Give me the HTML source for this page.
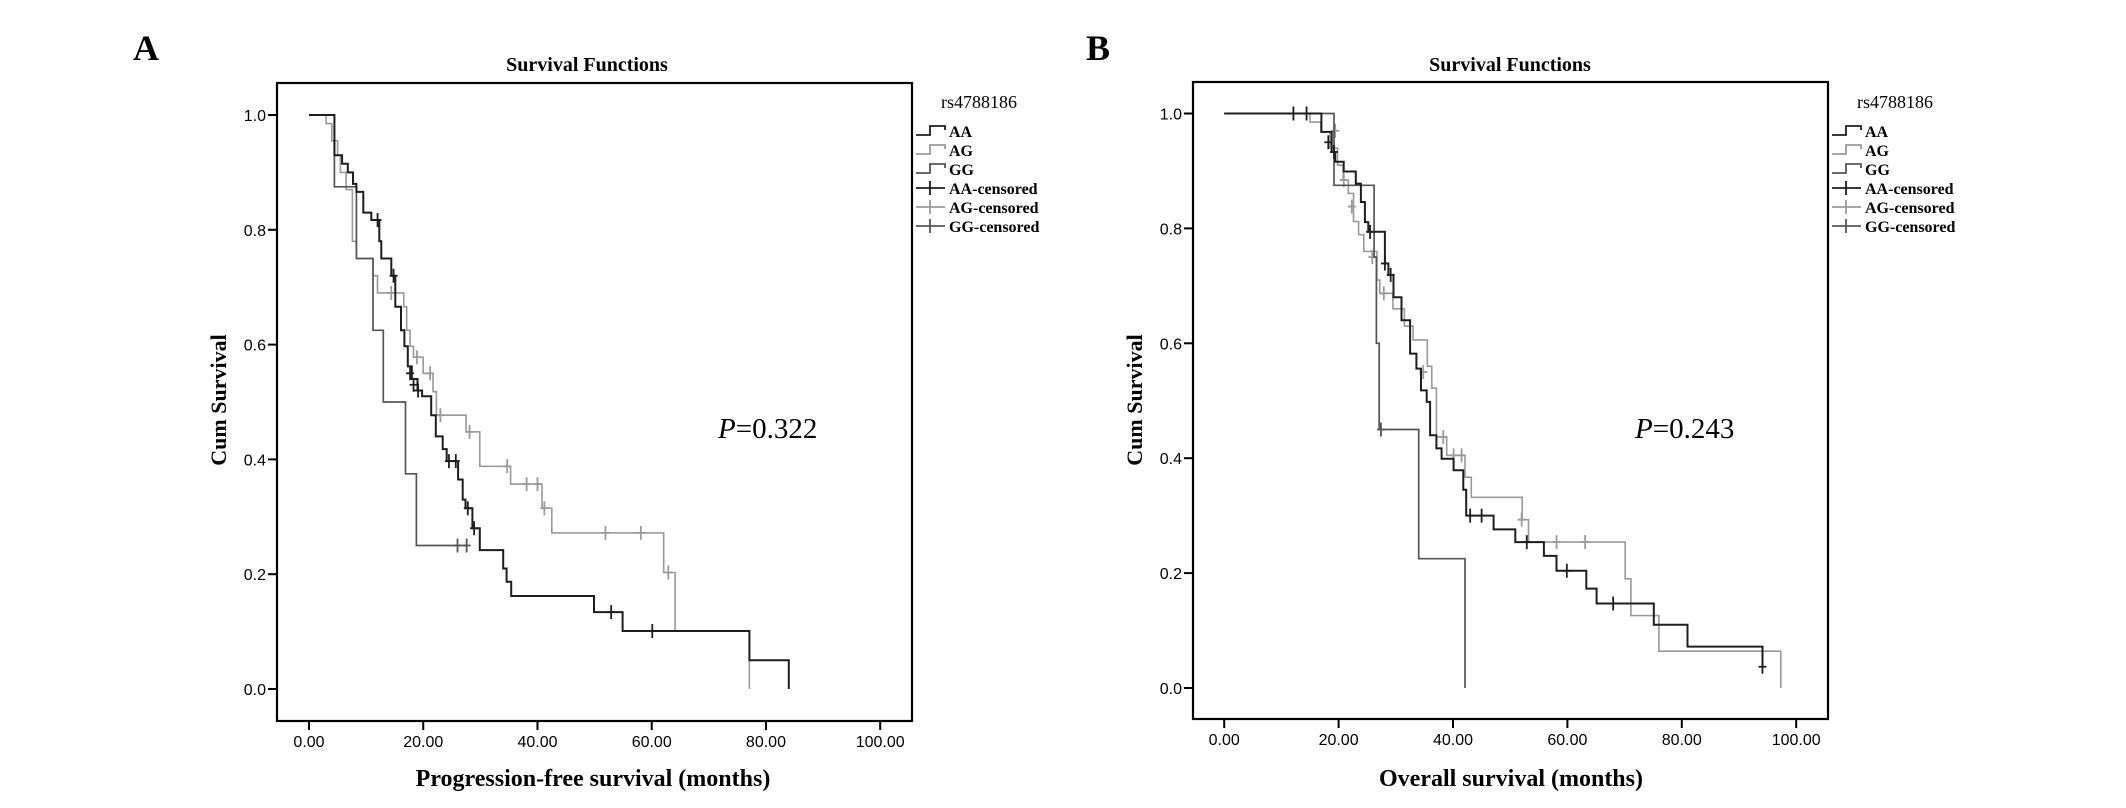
<!DOCTYPE html>
<html><head><meta charset="utf-8"><style>
html,body{margin:0;padding:0;background:#fff;}
svg{display:block;}
.ser{font-family:"Liberation Serif",serif;}
.sans{font-family:"Liberation Sans",sans-serif;}
</style></head><body>
<svg id="fig" width="2126" height="808" viewBox="0 0 2126 808" xmlns="http://www.w3.org/2000/svg">
<rect width="2126" height="808" fill="#fff"/>
</svg>
<script>
// ---------- Data: Panel A (Progression-free survival) ----------
const xTicks = [0, 20, 40, 60, 80, 100];
const xTickLabels = ["0.00", "20.00", "40.00", "60.00", "80.00", "100.00"];
const yTicks = [0, 0.2, 0.4, 0.6, 0.8, 1.0];
const yTickLabels = ["0.0", "0.2", "0.4", "0.6", "0.8", "1.0"];

const aAATimes = [4.45,5.8,6.8,7.7,8.3,9.5,10.9,12.3,12.65,14.4,15.1,16.1,16.7,17.3,18.0,19.0,19.8,21.4,22.2,23.4,24.1,26.1,26.9,27.4,28.6,29.9,34.0,34.6,35.4,49.9,54.9,77.1,84.0];
const aAASurv  = [0.93,0.915,0.90,0.88,0.866,0.83,0.817,0.78,0.75,0.72,0.666,0.625,0.597,0.562,0.54,0.52,0.51,0.477,0.44,0.418,0.397,0.365,0.33,0.315,0.28,0.242,0.21,0.187,0.162,0.134,0.101,0.05,0];
const aAAEnd = 84.0;
const aAACensT = [12.0,14.8,17.7,18.3,19.1,24.5,25.7,27.8,28.9,52.9,60.1];
const aAACensS = [0.817,0.72,0.55,0.53,0.52,0.397,0.397,0.315,0.28,0.134,0.101];

const aAGTimes = [3.0,4.0,5.0,5.5,6.5,7.6,8.3,11.2,12.0,16.6,17.1,17.7,18.3,20.0,21.7,22.3,27.5,29.9,35.3,40.8,42.5,62.1,64.1,77.1];
const aAGSurv  = [0.985,0.955,0.93,0.90,0.87,0.78,0.75,0.72,0.69,0.666,0.625,0.597,0.578,0.55,0.518,0.477,0.448,0.388,0.357,0.315,0.272,0.203,0.101,0];
const aAGEnd = 77.1;
const aAGCensT = [14.4,18.9,21.2,23.0,28.1,34.7,38.1,40.0,41.2,51.9,58.1,62.9];
const aAGCensS = [0.69,0.578,0.55,0.477,0.448,0.388,0.357,0.357,0.315,0.272,0.272,0.203];

const aGGTimes = [4.45,8.3,11.2,13.0,16.9,18.8];
const aGGSurv  = [0.875,0.75,0.625,0.5,0.375,0.25];
const aGGEnd = 27.6;
const aGGCensT = [26.0,27.6];
const aGGCensS = [0.25,0.25];

// ---------- Data: Panel B (Overall survival) ----------
const bAATimes = [17.0,18.8,19.4,20.9,23.0,23.9,24.6,25.2,28.1,28.7,29.6,31.0,32.5,33.6,34.4,35.4,36.0,37.1,38.0,40.1,41.8,42.3,47.1,50.9,55.9,58.1,63.3,65.1,75.1,81.0,94.1];
const bAASurv  = [0.968,0.933,0.916,0.899,0.878,0.846,0.811,0.794,0.739,0.719,0.68,0.64,0.582,0.556,0.518,0.498,0.44,0.417,0.399,0.379,0.345,0.30,0.276,0.254,0.23,0.204,0.173,0.147,0.11,0.072,0.037];
const bAAEnd = 94.1;
const bAACensT = [12.1,14.4,18.2,19.2,25.5,28.1,29.1,43.0,45.0,52.9,59.9,68.0,94.1];
const bAACensS = [1.0,1.0,0.95,0.933,0.794,0.739,0.719,0.30,0.30,0.254,0.204,0.147,0.037];

const bAGTimes = [15.0,16.9,18.5,19.8,20.8,21.7,22.6,23.5,24.4,26.7,27.2,29.5,31.5,33.0,35.5,36.3,37.1,38.9,42.1,43.2,52.1,53.2,70.1,71.1,76.0,97.3];
const bAGSurv  = [0.985,0.968,0.94,0.91,0.884,0.861,0.812,0.789,0.76,0.71,0.687,0.66,0.63,0.606,0.56,0.522,0.437,0.405,0.367,0.332,0.293,0.254,0.19,0.126,0.064,0];
const bAGEnd = 97.3;
const bAGCensT = [19.4,20.9,22.3,25.9,27.9,34.8,38.3,40.1,41.5,52.0,58.1,63.1];
const bAGCensS = [0.97,0.884,0.838,0.75,0.687,0.55,0.437,0.405,0.405,0.293,0.254,0.254];

const bGGTimes = [19.2,26.2,26.6,27.1,34.0,42.1];
const bGGSurv  = [0.875,0.75,0.6,0.45,0.225,0];
const bGGEnd = 42.1;
const bGGCensT = [27.4];
const bGGCensS = [0.45];

const colAA = "#1e1e1e", colAG = "#9a9a9a", colGG = "#555555";
const NS = "http://www.w3.org/2000/svg";
const svg = document.getElementById('fig');

function mk(tag, attrs, parent, text) {
  const e = document.createElementNS(NS, tag);
  for (const k in attrs) e.setAttribute(k, attrs[k]);
  if (text !== undefined) e.textContent = text;
  (parent || svg).appendChild(e);
  return e;
}

function stepPath(xs, ys, times, surv, end) {
  let t0 = 0, s = 1;
  let d = "M" + xs(0) + "," + ys(1);
  for (let i = 0; i < times.length; i++) {
    d += " H" + xs(times[i]).toFixed(1) + " V" + ys(surv[i]).toFixed(1);
    s = surv[i];
  }
  const lastT = times.length ? times[times.length - 1] : 0;
  if (end > lastT) d += " H" + xs(end).toFixed(1);
  return d;
}

function drawPanel(p) {
  const g = mk('g', {});
  
  
  const xs = t => p.x0 + p.kx * t;
  const ys = s => p.y0 - p.ky * s;

  const title = mk('text', {x: p.titleX, y: 71, 'text-anchor': 'middle', 'font-size': 20, 'font-weight': 'bold', class: 'ser'}, g, 'Survival Functions');
  
  

  const frame = mk('rect', {x: p.L, y: p.T, width: p.R - p.L, height: p.B - p.T, fill: 'none', stroke: '#000', 'stroke-width': 2.2}, g);
  
  

  // y ticks
  for (let i = 0; i < yTicks.length; i++) {
    const y = ys(yTicks[i]);
    const tk = mk('line', {x1: p.L - 9, x2: p.L, y1: y, y2: y, stroke: '#000', 'stroke-width': 2}, g);
    
    
    const lb = mk('text', {x: p.L - 11, y: y + 6, 'text-anchor': 'end', 'font-size': 16, class: 'sans'}, g, yTickLabels[i]);
    
    
  }
  // x ticks
  for (let i = 0; i < xTicks.length; i++) {
    const x = xs(xTicks[i]);
    const tk = mk('line', {x1: x, x2: x, y1: p.B, y2: p.B + 9, stroke: '#000', 'stroke-width': 2}, g);
    
    
    const lb = mk('text', {x: x, y: p.B + 26, 'text-anchor': 'middle', 'font-size': 16, class: 'sans'}, g, xTickLabels[i]);
    
    
  }
  const xt = mk('text', {x: p.xTitleX, y: 786, 'text-anchor': 'middle', 'font-size': 24, 'font-weight': 'bold', class: 'ser'}, g, p.xTitle);
  
  
  const yt = mk('text', {x: 0, y: 0, 'text-anchor': 'middle', 'font-size': 22, 'font-weight': 'bold', class: 'ser', transform: 'translate(' + (p.L - 51) + ',' + 400 + ') rotate(-90)'}, g, 'Cum Survival');
  
  

  // series
  for (const s of p.series) {
    const path = mk('path', {d: stepPath(xs, ys, s.times, s.surv, s.end), fill: 'none', stroke: s.color, 'stroke-width': s.w}, g);
    
    
    for (let i = 0; i < s.ct.length; i++) {
      const cx = xs(s.ct[i]), cy = ys(s.cs[i]);
      const c = mk('path', {d: 'M' + cx + ',' + (cy - 7) + ' V' + (cy + 7) + ' M' + (cx - 4) + ',' + cy + ' H' + (cx + 4), stroke: s.color, 'stroke-width': 1.8, fill: 'none'}, g);
      
      
    }
  }

  const pv = mk('text', {x: p.pX, y: 438, 'font-size': 29, class: 'ser'}, g);
  
  
  mk('tspan', {'font-style': 'italic'}, pv, 'P');
  mk('tspan', {}, pv, p.pText);

  // legend
  const lg = mk('g', {}, g);
  
  
  const lx = p.R + 4;
  const lt = mk('text', {x: lx + 63, y: 108, 'text-anchor': 'middle', 'font-size': 18, class: 'ser'}, lg, 'rs4788186');
  
  
  const entries = [['AA', colAA, 0], ['AG', colAG, 0], ['GG', colGG, 0], ['AA-censored', colAA, 1], ['AG-censored', colAG, 1], ['GG-censored', colGG, 1]];
  const ly = [131, 150, 169, 188, 207, 226];
  for (let i = 0; i < entries.length; i++) {
    const [lab, col, cens] = entries[i];
    const y = ly[i];
    let d;
    if (!cens) d = 'M' + lx + ',' + (y + 4) + ' H' + (lx + 14) + ' V' + (y - 5) + ' H' + (lx + 29) + ' V' + (y - 1);
    else d = 'M' + lx + ',' + y + ' H' + (lx + 29) + ' M' + (lx + 14) + ',' + (y - 7) + ' V' + (y + 7);
    const sym = mk('path', {d: d, stroke: col, 'stroke-width': 1.8, fill: 'none'}, lg);
    
    
    const tx = mk('text', {x: lx + 33, y: y + 6, 'font-size': 16, 'font-weight': 'bold', class: 'ser'}, lg, lab);
    
    
  }
}

drawPanel({name: 'panel-a', L: 277, T: 83, R: 912, B: 721, x0: 309, kx: 5.712, y0: 689, ky: 574,
  titleX: 587, xTitle: 'Progression-free survival (months)', xTitleX: 593, pX: 718, pText: '=0.322',
  series: [
    {name: 'ag', times: aAGTimes, surv: aAGSurv, end: aAGEnd, ct: aAGCensT, cs: aAGCensS, color: colAG, w: 1.6},
    {name: 'gg', times: aGGTimes, surv: aGGSurv, end: aGGEnd, ct: aGGCensT, cs: aGGCensS, color: colGG, w: 1.7},
    {name: 'aa', times: aAATimes, surv: aAASurv, end: aAAEnd, ct: aAACensT, cs: aAACensS, color: colAA, w: 2}
  ]});
drawPanel({name: 'panel-b', L: 1193, T: 82, R: 1828, B: 719, x0: 1224.2, kx: 5.72, y0: 688, ky: 574.5,
  titleX: 1510, xTitle: 'Overall survival (months)', xTitleX: 1511, pX: 1635, pText: '=0.243',
  series: [
    {name: 'ag', times: bAGTimes, surv: bAGSurv, end: bAGEnd, ct: bAGCensT, cs: bAGCensS, color: colAG, w: 1.6},
    {name: 'gg', times: bGGTimes, surv: bGGSurv, end: bGGEnd, ct: bGGCensT, cs: bGGCensS, color: colGG, w: 1.7},
    {name: 'aa', times: bAATimes, surv: bAASurv, end: bAAEnd, ct: bAACensT, cs: bAACensS, color: colAA, w: 2}
  ]});

const la = mk('text', {x: 146, y: 60, 'text-anchor': 'middle', 'font-size': 36, 'font-weight': 'bold', class: 'ser'}, svg, 'A');


const lb = mk('text', {x: 1098, y: 60, 'text-anchor': 'middle', 'font-size': 36, 'font-weight': 'bold', class: 'ser'}, svg, 'B');


</script>
</body></html>
